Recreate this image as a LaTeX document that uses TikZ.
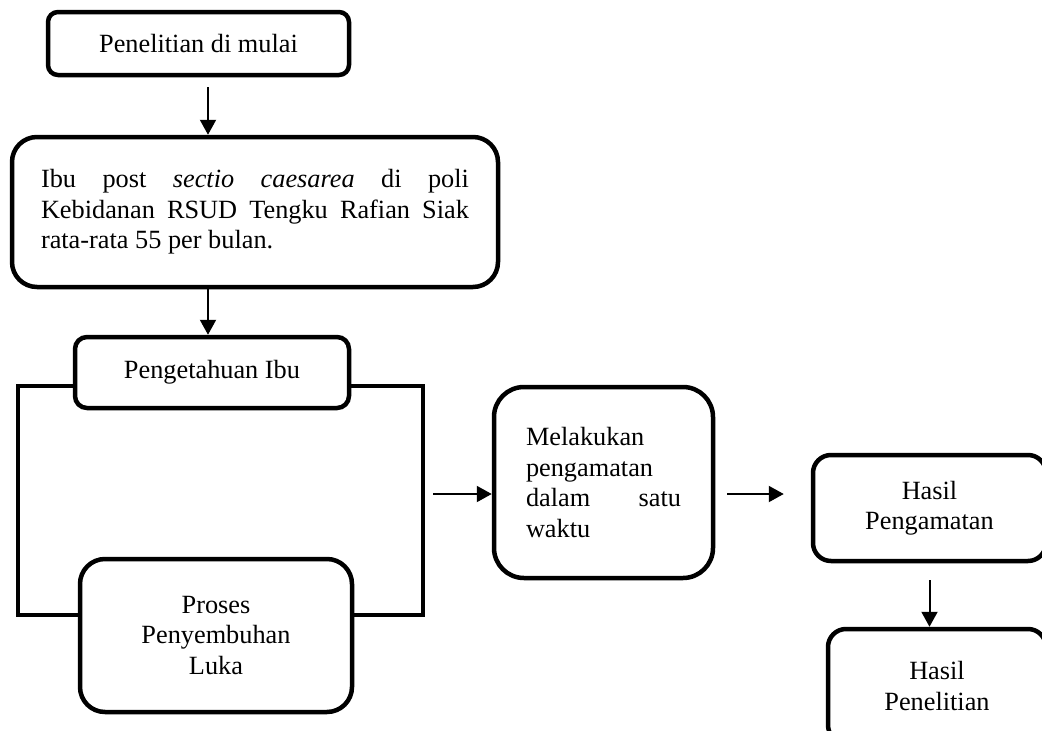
\documentclass[tikz,border=0pt]{standalone}
\usepackage{fontspec}
\setmainfont{Liberation Serif}
\usepackage{tikz}
\usetikzlibrary{arrows.meta,positioning}

\begin{document}
\begin{tikzpicture}[
        x=1pt, y=-1pt,
        every node/.style={font=\fontsize{26.3}{30.5}\selectfont},
        block/.style={draw, rectangle, line width=4.5pt, rounded corners=#1, inner sep=0pt, align=center},
        block/.default=12pt,
        arrow/.style={-{Triangle[length=15pt,width=16pt]}, line width=2pt},
        frame/.style={line width=4.5pt, line join=miter},
    ]
        \useasboundingbox (0,0) rectangle (1042,731);

        % Column 1 (Main Flow - Left)
        \node (start) [block=10pt, minimum width=301pt, minimum height=63pt] at (198.5,43.5) {Penelitian di mulai};
        \node (subject) [block=25pt, minimum width=486pt, minimum height=150pt, text width=428pt, align=justify] at (255,212)
            {Ibu post \textit{sectio caesarea} di poli\linebreak Kebidanan RSUD Tengku Rafian Siak\linebreak rata-rata 55 per bulan.};
        \node (knowledge) [block=12pt, minimum width=274pt, minimum height=71pt] at (212,372.5) {Pengetahuan Ibu};
        \node (healing) [block=25pt, minimum width=272pt, minimum height=153pt] at (216,635.5) {Proses\\Penyembuhan\\Luka};

        % Column 2 (Observation)
        \node (observe) [block=30pt, minimum width=219pt, minimum height=191pt, text width=155pt, align=justify] at (603.5,482.5)
            {Melakukan\linebreak pengamatan\linebreak dalam satu\linebreak waktu};

        % Column 3 (Results - Right)
        \node (result) [block=18pt, minimum width=233pt, minimum height=106pt] at (929.5,508) {Hasil\\Pengamatan};
        \node (final) [block=18pt, minimum width=218pt, minimum height=114pt] at (937,686) {Hasil\\Penelitian};

        % Helper points
        \coordinate (spine) at (208,0);
        \coordinate (jointTL) at (18,386);
        \coordinate (jointBR) at (423,615);
        \coordinate (flow) at (0,494);

        % --- Edges ---
        % Main flow
        \draw [arrow, shorten <=10pt] (start.south -| spine) -- (subject.north -| spine);
        \draw [arrow] (subject.south -| spine) -- (knowledge.north -| spine);

        % Frame joining knowledge and healing
        \draw [frame] (knowledge.west |- jointTL) -- (jointTL) |- (healing.west |- jointBR);
        \draw [frame] (knowledge.east |- jointTL) -| (jointBR) -- (healing.east |- jointBR);

        % To observation and results
        \draw [arrow, shorten <=10pt] (jointBR |- flow) -- (observe.west |- flow);
        \draw [arrow, shorten <=12pt, shorten >=27pt] (observe.east |- flow) -- (result.west |- flow);
        \draw [arrow, shorten <=17pt] (result.south) -- (result.south |- final.north);

    \end{tikzpicture}
\end{document}
